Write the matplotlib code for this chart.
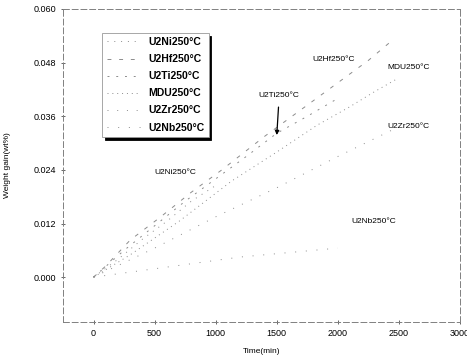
import numpy as np
import matplotlib.pyplot as plt

plt.rcParams['font.family'] = ['Liberation Sans', 'DejaVu Sans']

# weight gain curves (time in min, gain in wt%)
t_ni = [0, 200, 400, 600, 800, 1000]
w_ni = [0, 0.0040, 0.0085, 0.0125, 0.0170, 0.0205]

t_hf = [0, 100, 300, 550, 800, 1050, 1400, 1550, 1800, 2050, 2250, 2420]
w_hf = [0, 0.0025, 0.0083, 0.0135, 0.0190, 0.0240, 0.0315, 0.0345, 0.0395, 0.0445, 0.0485, 0.0524]

t_ti = [0, 250, 500, 750, 1000, 1250, 1500, 1750, 2000]
w_ti = [0, 0.0060, 0.0115, 0.0170, 0.0220, 0.0270, 0.0322, 0.0360, 0.0400]

t_mdu = [0, 300, 700, 1130, 1500, 1830, 2090, 2300, 2480]
w_mdu = [0, 0.0050, 0.0125, 0.0215, 0.0280, 0.0340, 0.0380, 0.0415, 0.0443]

t_zr = [0, 500, 1000, 1500, 2000, 2450]
w_zr = [0, 0.0065, 0.0135, 0.0200, 0.0270, 0.0330]

t_nb = [0, 400, 800, 1200, 1600, 2000]
w_nb = [0, 0.0015, 0.0030, 0.0045, 0.0055, 0.0065]

labels = ["U2Ni250°C", "U2Hf250°C", "U2Ti250°C", "MDU250°C", "U2Zr250°C", "U2Nb250°C"]

fig = plt.figure(figsize=(4.67, 3.6), dpi=100)
ax = fig.add_axes([0.135, 0.106, 0.85, 0.869])

series = [(t_ni, w_ni), (t_hf, w_hf), (t_ti, w_ti), (t_mdu, w_mdu), (t_zr, w_zr), (t_nb, w_nb)]
styles = [(0, (1, 6)), (0, (4, 8)), (0, (2, 7)), (0, (1, 4)), (0, (1, 9)), (0, (1, 10))]
for (t, w), ls, lab in zip(series, styles, labels):
    ax.plot(t, w, color='0.55', lw=0.7, linestyle=ls, label=lab)

ax.set_xlim(-250, 3000)
ax.set_ylim(-0.010, 0.060)
ax.set_xticks([0, 500, 1000, 1500, 2000, 2500, 3000])
ax.set_yticks([0.000, 0.012, 0.024, 0.036, 0.048, 0.060])
ax.set_yticklabels(["0.000", "0.012", "0.024", "0.036", "0.048", "0.060"])
ax.tick_params(labelsize=6.5, direction='inout', length=3, width=0.6, colors='0.3', labelcolor='black')
for s in ax.spines.values():
    s.set_color('0.5')
    s.set_linestyle((0, (6, 3)))
    s.set_linewidth(0.7)

ax.set_xlabel("Time(min)", fontsize=6, labelpad=7)
ax.set_ylabel("Weight gain(wt%)", fontsize=6, labelpad=16)

leg = ax.legend(loc='upper left', bbox_to_anchor=(0.086, 0.94),
                prop={'weight': 'bold', 'size': 7.5}, frameon=True, fancybox=False,
                edgecolor='0.6', handlelength=3.2, labelspacing=0.68,
                shadow={'color': 'black', 'alpha': 1})
leg.get_frame().set_linewidth(0.6)

txt = dict(fontsize=6, ha='center', va='center')
ax.text(667, 0.0235, "U2Ni250°C", **txt)
ax.text(1967, 0.0486, "U2Hf250°C", **txt)
ax.text(2577, 0.0468, "MDU250°C", **txt)
ax.text(2577, 0.0336, "U2Zr250°C", **txt)
ax.text(2293, 0.0125, "U2Nb250°C", **txt)
ax.annotate("U2Ti250°C", xy=(1500, 0.0318), xytext=(1520, 0.0407), fontsize=6,
            ha='center', va='center',
            arrowprops=dict(arrowstyle='-|>', color='black', lw=0.9, mutation_scale=6,
                            shrinkA=4, shrinkB=0))

fig.savefig("out.png", dpi=100)
